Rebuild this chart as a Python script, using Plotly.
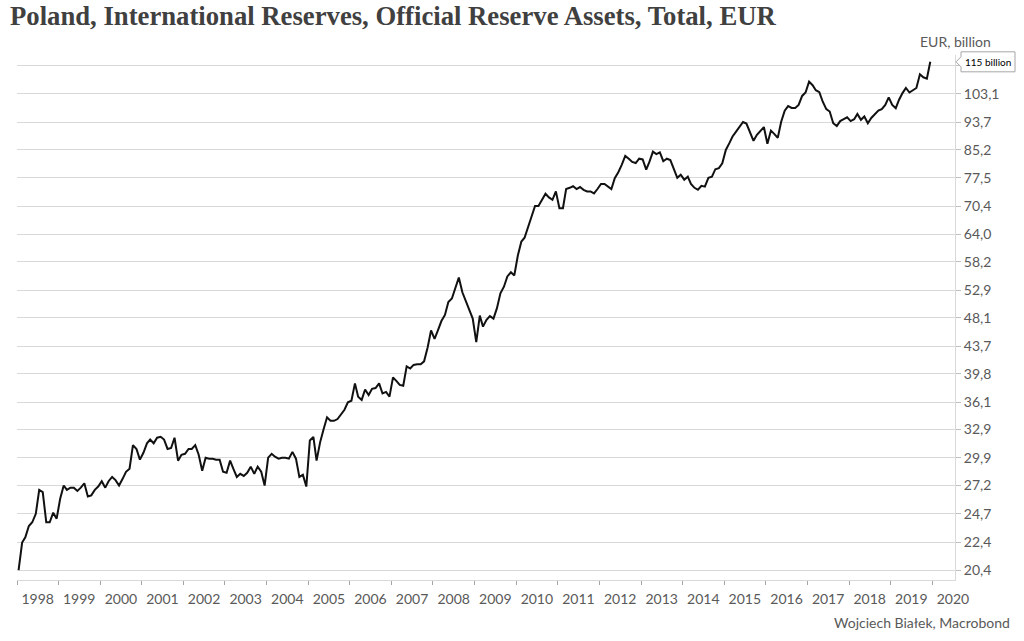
import math
import pandas as pd
import plotly.graph_objects as go

# Poland, official reserve assets, EUR billion, monthly Jan 1998 - Dec 2019
r1998 = [20.4, 22.4, 22.8, 23.7, 24.0, 24.7, 26.8, 26.6, 24.0, 24.0, 24.8, 24.3]
r1999 = [26.0, 27.2, 26.8, 27.0, 27.0, 26.7, 27.0, 27.4, 26.2, 26.3, 26.8, 27.1]
r2000 = [27.6, 27.0, 27.6, 28.0, 27.7, 27.2, 27.8, 28.5, 28.8, 31.2, 30.8, 29.7]
r2001 = [30.4, 31.4, 31.8, 31.4, 32.0, 32.1, 31.8, 30.8, 30.9, 32.0, 29.6, 30.2]
r2002 = [30.3, 30.8, 30.8, 31.2, 30.2, 28.6, 29.9, 29.8, 29.8, 29.7, 29.7, 28.5]
r2003 = [28.4, 29.6, 28.8, 28.0, 28.3, 28.1, 28.4, 29.0, 28.3, 29.0, 28.5, 27.2]
r2004 = [29.9, 30.3, 30.0, 29.8, 29.9, 29.9, 29.8, 30.5, 29.8, 28.0, 28.2, 27.1]
r2005 = [31.7, 32.1, 29.6, 31.5, 32.9, 34.3, 33.9, 33.9, 34.1, 34.6, 35.2, 36.1]
r2006 = [36.3, 38.5, 36.8, 36.4, 37.7, 37.0, 37.8, 37.9, 38.5, 37.2, 37.4, 36.8]
r2007 = [39.3, 38.8, 38.3, 38.2, 40.8, 40.5, 41.0, 41.1, 41.1, 41.5, 43.5, 46.1]
r2008 = [44.8, 46.2, 47.6, 48.6, 50.8, 51.4, 53.2, 55.2, 52.5, 50.9, 49.5, 48.0]
r2009 = [44.3, 48.5, 46.7, 47.8, 48.4, 48.0, 49.7, 52.3, 53.5, 55.4, 56.2, 55.6]
r2010 = [59.5, 62.4, 63.2, 65.5, 67.9, 70.4, 70.4, 71.9, 73.4, 72.5, 71.9, 74.0]
r2011 = [69.9, 69.9, 74.6, 74.9, 75.3, 74.6, 75.1, 74.4, 74.0, 74.0, 73.5, 74.6]
r2012 = [75.9, 75.9, 75.3, 74.6, 77.4, 79.0, 81.0, 83.5, 82.7, 81.8, 81.5, 82.7]
r2013 = [82.5, 79.7, 81.8, 84.7, 84.0, 84.5, 82.0, 82.7, 82.3, 79.7, 77.5, 78.3]
r2014 = [77.0, 77.8, 75.9, 74.9, 74.4, 75.4, 75.2, 77.5, 77.8, 79.8, 80.1, 81.4]
r2015 = [85.2, 87.2, 89.2, 90.7, 92.1, 93.7, 93.2, 90.2, 87.9, 89.7, 91.0, 92.1]
r2016 = [87.0, 91.0, 90.0, 88.8, 93.8, 97.4, 98.9, 98.3, 98.3, 99.3, 102.4, 103.6]
r2017 = [107.5, 106.2, 104.4, 103.7, 100.4, 97.9, 97.1, 93.3, 92.4, 94.0, 94.6, 95.2]
r2018 = [94.0, 94.6, 96.3, 94.4, 95.5, 93.3, 95.0, 96.3, 97.4, 97.9, 99.3, 101.9]
r2019 = [99.3, 98.2, 101.0, 103.4, 105.2, 103.6, 104.4, 105.2, 110.2, 109.1, 108.6, 115.0]

values = (r1998 + r1999 + r2000 + r2001 + r2002 + r2003 + r2004 + r2005 + r2006 + r2007
          + r2008 + r2009 + r2010 + r2011 + r2012 + r2013 + r2014 + r2015 + r2016
          + r2017 + r2018 + r2019)
dates = pd.date_range("1998-01-01", periods=len(values), freq="MS") + pd.Timedelta(days=14)

y_ticks = [20.4, 22.4, 24.7, 27.2, 29.9, 32.9, 36.1, 39.8, 43.7, 48.1, 52.9, 58.2,
           64.0, 70.4, 77.5, 85.2, 93.7, 103.1, 113.4]
y_tick_text = [f"{v:.1f}".replace(".", ",") for v in y_ticks[:-1]] + [""]
years = list(range(1998, 2021))
y_range = [19.72, 117.7]

title = "Poland, International Reserves, Official Reserve Assets, Total, EUR"
unit = "EUR, billion"
source = "Wojciech Białek, Macrobond"
last_label = f"{values[-1]:.0f} billion"

label_font = dict(family="Lato", size=14, color="#595959")

fig = go.Figure()
fig.add_trace(go.Scatter(x=dates, y=values, mode="lines",
                         line=dict(color="#111111", width=2), hoverinfo="skip",
                         showlegend=False))

fig.update_layout(
    width=1024, height=641,
    margin=dict(l=17, r=69, t=55, b=61),
    paper_bgcolor="white", plot_bgcolor="white",
    showlegend=False,
    xaxis=dict(
        type="date",
        range=["1998-01-01", "2020-07-19"],
        tickmode="array",
        tickvals=[f"{y}-07-01" for y in years],
        ticktext=[str(y) for y in years],
        ticks="outside", ticklen=6, tickcolor="rgba(0,0,0,0)",
        tickfont=label_font,
        showgrid=False, zeroline=False,
        showline=True, linecolor="#d9d9d9", linewidth=1,
        minor=dict(tickmode="array", tickvals=[f"{y}-01-01" for y in years],
                   ticks="outside", ticklen=4, tickcolor="#a6a6a6", showgrid=False),
    ),
    yaxis=dict(
        type="log",
        side="right",
        range=[math.log10(y_range[0]), math.log10(y_range[1])],
        tickmode="array", tickvals=y_ticks, ticktext=y_tick_text,
        ticks="outside", ticklen=5, tickcolor="#bfbfbf",
        tickfont=label_font,
        showgrid=True, gridcolor="#d9d9d9", gridwidth=1,
        showline=True, linecolor="#d9d9d9", linewidth=1,
        zeroline=False,
    ),
)

# title
fig.add_annotation(text=f"<b>{title}</b>", xref="paper", yref="paper",
                   x=-0.0096, y=1.074, xanchor="left", yanchor="middle",
                   showarrow=False,
                   font=dict(family="Liberation Serif", size=26.7, color="#404040"))
# unit label
fig.add_annotation(text=unit, xref="paper", yref="paper", x=1.0, y=1.025,
                   xanchor="center", yanchor="middle", showarrow=False,
                   font=dict(family="Lato", size=14, color="#595959"))
# source
fig.add_annotation(text=source, xref="paper", yref="paper", x=1.0608, y=-0.08,
                   xanchor="right", yanchor="middle", showarrow=False,
                   font=dict(family="Lato", size=14, color="#595959"))

# last-value callout
ly = (math.log10(values[-1]) - math.log10(y_range[0])) / (math.log10(y_range[1]) - math.log10(y_range[0]))
fig.add_shape(type="path", xref="paper", yref="paper",
              xsizemode="pixel", ysizemode="pixel", xanchor=1.0, yanchor=ly,
              path="M1,0 L6,5 L6,10 L60,10 L60,-10 L6,-10 L6,-5 Z",
              line=dict(color="#a6a6a6", width=1), fillcolor="white", layer="above")
fig.add_annotation(text=last_label, xref="paper", yref="paper", x=1.0, y=ly,
                   xshift=33, xanchor="center", yanchor="middle", showarrow=False,
                   font=dict(family="Lato", size=10, color="#000000"))

fig.write_html("out.html", config={"displayModeBar": False},
               post_script="document.body.style.margin='0';document.body.style.overflow='hidden';")
